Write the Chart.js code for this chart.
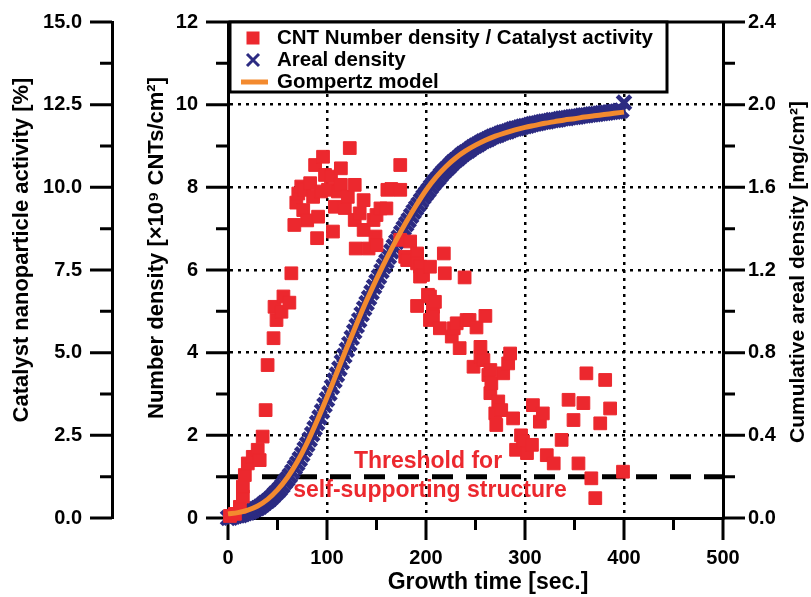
<!DOCTYPE html>
<html>
<head>
<meta charset="utf-8">
<script src="https://cdn.jsdelivr.net/npm/chart.js@4.4.1/dist/chart.umd.min.js"></script>
<style>
  html, body { margin: 0; padding: 0; background: #fff; }
  #wrap { width: 811px; height: 597px; }
</style>
</head>
<body>
<div id="wrap"><canvas id="growthChart" width="811" height="597"></canvas></div>
<script>
// CNT number density [x10^9 CNTs/cm2] vs growth time [sec.]
const cntTime = [
  2, 7, 12, 15, 15, 17, 20, 25, 30, 32, 35, 38, 40, 46, 47, 49, 54, 56, 62, 64,
  67, 69, 71, 74, 76, 77, 80, 83, 86, 88, 90, 91, 94, 96, 98, 101, 104, 106, 108, 111,
  114, 114, 118, 121, 123, 128, 128, 129, 133, 137, 137, 142, 147, 149, 150, 150, 154, 160, 161, 165,
  174, 174, 174, 179, 181, 184, 191, 191, 191, 194, 194, 197, 202, 204, 204, 204, 207, 207, 209, 214,
  218, 219, 226, 228, 231, 234, 239, 241, 244, 248, 251, 255, 255, 258, 260, 263, 265, 265, 266, 270,
  271, 273, 276, 278, 283, 285, 288, 291, 296, 298, 302, 307, 308, 315, 318, 322, 329, 337, 344, 349,
  354, 359, 362, 367, 371, 376, 381, 386, 399
];
const cntDensity = [
  0.05, 0.10, 0.27, 0.52, 0.76, 1.04, 1.32, 1.48, 1.65, 1.40, 1.97, 2.61, 3.70, 4.35, 5.11, 4.79, 4.99, 5.36, 5.21, 5.92,
  7.09, 7.63, 7.85, 8.02, 7.45, 7.94, 7.20, 8.10, 7.77, 8.54, 6.77, 7.29, 7.90, 8.74, 8.30, 7.94, 8.26, 6.93, 7.53, 7.90,
  8.06, 8.46, 7.50, 7.77, 8.95, 8.06, 7.21, 6.52, 7.37, 7.69, 6.97, 6.52, 7.21, 6.81, 7.33, 6.60, 7.49, 7.49, 7.94, 7.96,
  7.94, 8.54, 6.73, 6.32, 6.24, 6.69, 6.40, 6.16, 5.13, 6.08, 5.84, 5.88, 5.40, 6.08, 5.36, 4.79, 5.11, 4.87, 5.23, 4.59,
  6.40, 5.92, 4.39, 4.59, 4.71, 4.11, 5.82, 4.79, 4.79, 3.66, 4.61, 4.14, 3.90, 3.82, 4.89, 3.46, 3.58, 3.02, 3.26, 2.53,
  2.25, 2.82, 2.61, 3.50, 3.74, 3.98, 2.41, 1.65, 2.00, 1.85, 1.57, 1.77, 2.73, 2.33, 2.53, 1.52, 1.32, 1.89, 2.86, 2.37,
  1.32, 2.78, 3.50, 0.96, 0.48, 2.29, 3.34, 2.65, 1.12
];

// cumulative areal density [mg/cm2], logged every 2.5 s
const arealTime = [
  0, 2.5, 5, 7.5, 10, 12.5, 15, 17.5, 20, 22.5, 25, 27.5, 30, 32.5, 35, 37.5, 40, 42.5, 45, 47.5,
  50, 52.5, 55, 57.5, 60, 62.5, 65, 67.5, 70, 72.5, 75, 77.5, 80, 82.5, 85, 87.5, 90, 92.5, 95, 97.5,
  100, 102.5, 105, 107.5, 110, 112.5, 115, 117.5, 120, 122.5, 125, 127.5, 130, 132.5, 135, 137.5, 140, 142.5, 145, 147.5,
  150, 152.5, 155, 157.5, 160, 162.5, 165, 167.5, 170, 172.5, 175, 177.5, 180, 182.5, 185, 187.5, 190, 192.5, 195, 197.5,
  200, 202.5, 205, 207.5, 210, 212.5, 215, 217.5, 220, 222.5, 225, 227.5, 230, 232.5, 235, 237.5, 240, 242.5, 245, 247.5,
  250, 252.5, 255, 257.5, 260, 262.5, 265, 267.5, 270, 272.5, 275, 277.5, 280, 282.5, 285, 287.5, 290, 292.5, 295, 297.5,
  300, 302.5, 305, 307.5, 310, 312.5, 315, 317.5, 320, 322.5, 325, 327.5, 330, 332.5, 335, 337.5, 340, 342.5, 345, 347.5,
  350, 352.5, 355, 357.5, 360, 362.5, 365, 367.5, 370, 372.5, 375, 377.5, 380, 382.5, 385, 387.5, 390, 392.5, 395, 397.5,
  400
];
const arealDensity = [
  0.000, 0.002, 0.006, 0.010, 0.012, 0.014, 0.018, 0.023, 0.026, 0.030, 0.036, 0.043, 0.048, 0.055, 0.064, 0.074, 0.082, 0.092, 0.104, 0.117,
  0.128, 0.141, 0.156, 0.173, 0.188, 0.205, 0.224, 0.245, 0.264, 0.285, 0.308, 0.333, 0.356, 0.380, 0.406, 0.434, 0.460, 0.487, 0.516, 0.546,
  0.574, 0.603, 0.634, 0.665, 0.694, 0.723, 0.754, 0.785, 0.814, 0.842, 0.872, 0.902, 0.930, 0.957, 0.986, 1.014, 1.040, 1.065, 1.092, 1.119,
  1.144, 1.168, 1.194, 1.219, 1.242, 1.265, 1.290, 1.314, 1.336, 1.357, 1.380, 1.402, 1.422, 1.441, 1.462, 1.482, 1.500, 1.517, 1.536, 1.554,
  1.570, 1.585, 1.602, 1.618, 1.632, 1.645, 1.660, 1.674, 1.686, 1.697, 1.710, 1.722, 1.732, 1.741, 1.752, 1.762, 1.770, 1.777, 1.786, 1.795,
  1.802, 1.808, 1.816, 1.823, 1.828, 1.833, 1.840, 1.846, 1.850, 1.854, 1.860, 1.865, 1.868, 1.871, 1.876, 1.881, 1.884, 1.886, 1.890, 1.894,
  1.896, 1.898, 1.902, 1.906, 1.908, 1.910, 1.913, 1.916, 1.918, 1.919, 1.922, 1.925, 1.926, 1.927, 1.930, 1.933, 1.934, 1.935, 1.938, 1.940,
  1.941, 1.942, 1.944, 1.947, 1.948, 1.949, 1.951, 1.953, 1.954, 1.955, 1.957, 1.959, 1.960, 1.961, 1.963, 1.965, 1.966, 1.967, 1.970, 1.972,
  2.010
];

// Gompertz fit of the areal density [mg/cm2]
const gompertzTime = [
  0, 10, 20, 30, 40, 50, 60, 70, 80, 90, 100, 110, 120, 130, 140, 150, 160, 170, 180, 190,
  200, 210, 220, 230, 240, 250, 260, 270, 280, 290, 300, 310, 320, 330, 340, 350, 360, 370, 380, 390, 400
];
const gompertzValue = [
  0.020, 0.026, 0.038, 0.058, 0.090, 0.136, 0.196, 0.272, 0.364, 0.470, 0.584, 0.704, 0.824, 0.940, 1.052, 1.156, 1.254, 1.346, 1.432, 1.512,
  1.586, 1.648, 1.700, 1.742, 1.776, 1.804, 1.828, 1.848, 1.864, 1.878, 1.890, 1.900, 1.910, 1.918, 1.926, 1.932, 1.940, 1.946, 1.952, 1.958, 1.964
];

// number density needed for a self-supporting structure
const thresholdLevel = 1;

const timeRange = [0, 500];
const densityRange = [0, 12];
const activityRange = [0, 15];
const arealRange = [0, 2.4];

const FONT = '"Liberation Sans", Arial, sans-serif';
const RED = '#ec282e';
const NAVY = '#2c2b82';
const ORANGE = '#f38a2f';

const toPoints = (xs, ys) => xs.map((x, i) => ({ x: x, y: ys[i] }));
const tickFont = { family: FONT, size: 20, weight: 'bold' };
const dotted = [3, 5];

// fixed box sizes so the plot area sits where it should; no extra label padding
const fixSize = (w, h) => s => {
  if (w) s.width = w;
  if (h) s.height = h;
  s.paddingTop = s.paddingBottom = s.paddingLeft = s.paddingRight = 0;
};

function drawTitle(ctx, text, x, y, size, vertical) {
  ctx.save();
  ctx.font = 'bold ' + size + 'px ' + FONT;
  ctx.fillStyle = '#000';
  ctx.textAlign = 'center';
  ctx.textBaseline = 'middle';
  ctx.translate(x, y);
  if (vertical) ctx.rotate(-Math.PI / 2);
  ctx.fillText(text, 0, 0);
  ctx.restore();
}

// tick marks (long on labelled ticks, short between), frame top, titles, note, legend
const frame = {
  id: 'frame',
  beforeDatasetsDraw(chart) {
    const { ctx, chartArea: a, scales: s } = chart;
    ctx.save();
    ctx.strokeStyle = '#000';
    ctx.lineWidth = 3;
    ctx.beginPath();
    ctx.moveTo(a.left - 1.5, a.top);
    ctx.lineTo(a.right + 1.5, a.top);
    s.x.ticks.forEach(t => {
      const px = s.x.getPixelForValue(t.value);
      ctx.moveTo(px, a.bottom);
      ctx.lineTo(px, a.bottom + (t.value % 100 === 0 ? 22 : 12));
    });
    s.y.ticks.forEach(t => {
      const py = s.y.getPixelForValue(t.value);
      ctx.moveTo(a.left, py);
      ctx.lineTo(a.left - (t.value % 2 === 0 ? 22 : 12), py);
    });
    s.yAct.ticks.forEach(t => {
      const py = s.yAct.getPixelForValue(t.value);
      const major = Math.round(t.value * 100) % 250 === 0;
      ctx.moveTo(s.yAct.right, py);
      ctx.lineTo(s.yAct.right - (major ? 22 : 12), py);
    });
    s.y2.ticks.forEach(t => {
      const py = s.y2.getPixelForValue(t.value);
      const major = Math.round(t.value * 10) % 4 === 0;
      ctx.moveTo(a.right, py);
      ctx.lineTo(a.right + (major ? 22 : 12), py);
    });
    ctx.stroke();
    ctx.restore();
  },
  afterDatasetsDraw(chart) {
    const { ctx, chartArea: a, scales: s } = chart;
    ctx.save();

    // axis titles
    drawTitle(ctx, 'Catalyst nanoparticle activity [%]', 22, 250, 22, true);
    drawTitle(ctx, 'Number density [\u00d710\u2079 CNTs/cm\u00b2]', 157, 248, 22, true);
    drawTitle(ctx, 'Cumulative areal density [mg/cm\u00b2]', 798, 272, 21, true);
    drawTitle(ctx, 'Growth time [sec.]', 488, 583, 23, false);

    // threshold note
    ctx.fillStyle = RED;
    ctx.font = 'bold 23px ' + FONT;
    ctx.textAlign = 'center';
    ctx.textBaseline = 'middle';
    const ty = s.y.getPixelForValue(thresholdLevel);
    ctx.fillText('Threshold for', 428, ty - 15);
    ctx.fillText('self-supporting structure', 430, ty + 14);

    // legend box
    const bx = a.left + 2, by = a.top, bw = 437, bh = 70;
    ctx.fillStyle = '#fff';
    ctx.fillRect(bx, by, bw, bh);
    ctx.strokeStyle = '#000';
    ctx.lineWidth = 3;
    ctx.strokeRect(bx, by, bw, bh);

    const rows = [by + 16, by + 38, by + 60];
    ctx.fillStyle = RED;
    ctx.fillRect(253 - 6.5, rows[0] - 6.5, 13, 13);
    ctx.strokeStyle = NAVY;
    ctx.lineWidth = 3;
    ctx.beginPath();
    ctx.moveTo(247, rows[1] - 6); ctx.lineTo(259, rows[1] + 6);
    ctx.moveTo(259, rows[1] - 6); ctx.lineTo(247, rows[1] + 6);
    ctx.stroke();
    ctx.strokeStyle = ORANGE;
    ctx.lineWidth = 5;
    ctx.beginPath();
    ctx.moveTo(241, rows[2]); ctx.lineTo(268, rows[2]);
    ctx.stroke();

    ctx.fillStyle = '#000';
    ctx.font = 'bold 20.5px ' + FONT;
    ctx.textAlign = 'left';
    ctx.fillText('CNT Number density / Catalyst activity', 277, rows[0]);
    ctx.fillText('Areal density', 277, rows[1]);
    ctx.fillText('Gompertz model', 277, rows[2]);
    ctx.restore();
  }
};

new Chart(document.getElementById('growthChart'), {
  type: 'scatter',
  data: {
    datasets: [
      {
        label: 'Gompertz model',
        type: 'line',
        data: toPoints(gompertzTime, gompertzValue),
        yAxisID: 'y2',
        borderColor: ORANGE,
        borderWidth: 5,
        pointRadius: 0,
        cubicInterpolationMode: 'monotone',
        clip: false,
        order: 0
      },
      {
        label: 'CNT Number density / Catalyst activity',
        data: toPoints(cntTime, cntDensity),
        yAxisID: 'y',
        pointStyle: 'rect',
        pointRadius: 9,
        backgroundColor: RED,
        borderColor: RED,
        borderWidth: 1,
        clip: false,
        order: 1
      },
      {
        label: 'Areal density',
        data: toPoints(arealTime, arealDensity),
        yAxisID: 'y2',
        pointStyle: 'crossRot',
        pointRadius: 9.5,
        borderColor: NAVY,
        borderWidth: 4.5,
        clip: false,
        order: 2
      },
      {
        label: 'Threshold',
        type: 'line',
        data: [{ x: timeRange[0], y: thresholdLevel }, { x: timeRange[1], y: thresholdLevel }],
        yAxisID: 'y',
        borderColor: '#000',
        borderWidth: 5,
        borderDash: [21, 13],
        pointRadius: 0,
        order: 3
      }
    ]
  },
  options: {
    responsive: false,
    animation: false,
    events: [],
    devicePixelRatio: 1,
    layout: { padding: { top: 22, left: 0, right: 0, bottom: 0 } },
    plugins: { legend: { display: false }, tooltip: { enabled: false } },
    scales: {
      x: {
        type: 'linear',
        position: 'bottom',
        min: timeRange[0],
        max: timeRange[1],
        afterFit: fixSize(0, 79),
        ticks: {
          stepSize: 50,
          autoSkip: false,
          maxRotation: 0,
          padding: 28,
          color: '#000',
          font: tickFont,
          callback: v => (v % 100 === 0 ? v : '')
        },
        grid: {
          drawTicks: false,
          lineWidth: 2.5,
          color: c => (c.tick && c.tick.value % 100 === 0 && c.tick.value > 0 && c.tick.value < 500 ? '#000' : 'rgba(0,0,0,0)')
        },
        border: { display: true, color: '#000', width: 3, dash: dotted }
      },
      y: {
        type: 'linear',
        position: 'left',
        weight: 0,
        min: densityRange[0],
        max: densityRange[1],
        afterFit: fixSize(116, 0),
        ticks: {
          stepSize: 1,
          padding: 30,
          color: '#000',
          font: tickFont,
          callback: v => (v % 2 === 0 ? v : '')
        },
        grid: {
          drawTicks: false,
          lineWidth: 2.5,
          color: c => (c.tick && c.tick.value % 2 === 0 && c.tick.value > 0 && c.tick.value < 12 ? '#000' : 'rgba(0,0,0,0)')
        },
        border: { display: true, color: '#000', width: 3, dash: dotted }
      },
      yAct: {
        type: 'linear',
        position: 'left',
        weight: 1,
        min: activityRange[0],
        max: activityRange[1],
        afterFit: fixSize(112, 0),
        ticks: {
          stepSize: 1.25,
          padding: 30,
          color: '#000',
          font: tickFont,
          callback: v => (Math.round(v * 100) % 250 === 0 ? v.toFixed(1) : '')
        },
        grid: { drawTicks: false, drawOnChartArea: false, color: 'rgba(0,0,0,0)' },
        border: { display: true, color: '#000', width: 3 }
      },
      y2: {
        type: 'linear',
        position: 'right',
        min: arealRange[0],
        max: arealRange[1],
        afterFit: fixSize(88, 0),
        ticks: {
          stepSize: 0.2,
          padding: 25,
          color: '#000',
          font: tickFont,
          callback: v => (Math.round(v * 10) % 4 === 0 ? v.toFixed(1) : '')
        },
        grid: { drawTicks: false, drawOnChartArea: false, color: 'rgba(0,0,0,0)' },
        border: { display: true, color: '#000', width: 3 }
      }
    }
  },
  plugins: [frame]
});
</script>
</body>
</html>
